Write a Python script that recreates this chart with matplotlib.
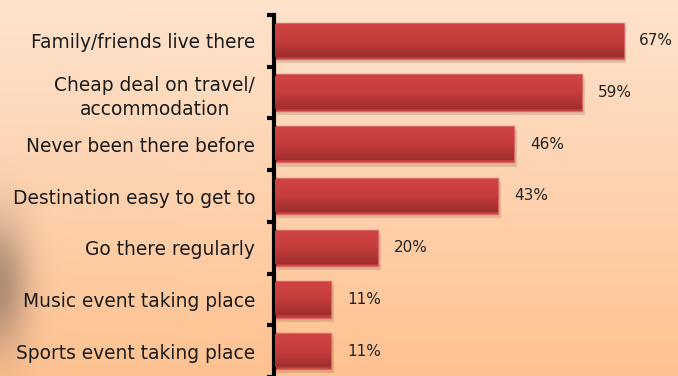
import matplotlib.pyplot as plt
import matplotlib.patheffects as pe
import numpy as np
from matplotlib.colors import LinearSegmentedColormap

reasons = ["Family/friends live there",
           "Cheap deal on travel/\naccommodation",
           "Never been there before",
           "Destination easy to get to",
           "Go there regularly",
           "Music event taking place",
           "Sports event taking place"]
shares = [67, 59, 46, 43, 20, 11, 11]

W, H = 678, 376
fig = plt.figure(figsize=(W / 100, H / 100), dpi=100)

# peach background fading to orange, with a soft dark smudge at the left
bg = fig.add_axes([0, 0, 1, 1], zorder=0)
bg.set_axis_off()
yy, xx = np.mgrid[0:H, 0:W]
t = yy / (H - 1)
top = np.array([254, 227, 205]) / 255
bot = np.array([254, 194, 145]) / 255
img = top[None, None, :] * (1 - t[..., None]) + bot[None, None, :] * t[..., None]
blob = np.exp(-((xx + 2) / 30.0) ** 2 - ((yy - 285) / 65.0) ** 2) * 0.55
smudge = np.array([110, 90, 80]) / 255
img = img * (1 - blob[..., None]) + smudge[None, None, :] * blob[..., None]
bg.imshow(img, extent=[0, 1, 0, 1], aspect="auto", origin="upper")
bg.set_xlim(0, 1)
bg.set_ylim(0, 1)

ax = fig.add_axes([274 / W, -1 / H, 404 / W, 362 / H], zorder=1)
ax.patch.set_alpha(0)

y = np.arange(len(reasons))
bars = ax.barh(y, shares, height=0.70, color="#c23b3a", edgecolor="#d86a66",
               linewidth=1, zorder=2,
               path_effects=[pe.SimplePatchShadow(offset=(2, -3), shadow_rgbFace="#6b3a2a", alpha=0.18),
                             pe.Normal()])

# vertical shading inside each bar
red_grad = LinearSegmentedColormap.from_list("redgrad", ["#d04444", "#c53d3c", "#9e2e2d"])
shade = np.linspace(0, 1, 64).reshape(-1, 1)
for b in bars:
    x0, y0, w, h = b.get_x(), b.get_y(), b.get_width(), b.get_height()
    ax.imshow(shade, cmap=red_grad, extent=[x0 + 0.15, x0 + w - 0.15, y0 + h - 0.04, y0 + 0.04],
              aspect="auto", origin="upper", zorder=3, interpolation="bilinear")

for b, v in zip(bars, shares):
    ax.text(b.get_width() + 3.0, b.get_y() + b.get_height() / 2, f"{v}%",
            va="center", ha="left", fontsize=11, color="#222222", zorder=4)

ax.set_xlim(0, 77.4)
ax.set_ylim(len(reasons) - 0.5, -0.5)

ax.set_yticks(y)
ax.set_yticklabels(reasons, fontsize=13.4, color="#1a1a1a", multialignment="center",
                   linespacing=1.35)
ax.tick_params(axis="y", which="major", length=0, pad=13.5)
ax.set_yticks(np.arange(len(reasons) + 1) - 0.5, minor=True)
ax.tick_params(axis="y", which="minor", length=5, width=3, color="black")
ax.set_xticks([])

for s in ["top", "right", "bottom"]:
    ax.spines[s].set_visible(False)
ax.spines["left"].set_linewidth(3)
ax.spines["left"].set_color("black")

fig.savefig("out.png", dpi=100)
